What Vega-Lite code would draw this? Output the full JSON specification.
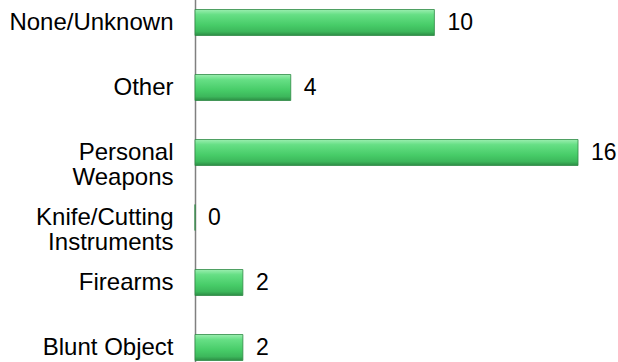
{
  "$schema": "https://vega.github.io/schema/vega-lite/v6.json",
  "autosize": "none",
  "width": 423,
  "height": 362,
  "padding": {"left": 195, "top": 0, "right": 0, "bottom": 0},
  "background": "white",
  "data": {"values": [
    {"category": "None/Unknown", "count": 10},
    {"category": "Other", "count": 4},
    {"category": "Personal\u2009|Weapons", "count": 16},
    {"category": "Knife/Cutting|Instruments\u00a0\u200a", "count": 0},
    {"category": "Firearms", "count": 2},
    {"category": "Blunt Object", "count": 2}
  ]},
  "config": {"view": {"stroke": null}},
  "encoding": {
    "y": {
      "field": "category", "type": "nominal", "sort": null, "title": null,
      "scale": {"range": [-10, 380], "paddingInner": 0.6, "paddingOuter": 0.3},
      "axis": {
        "ticks": false, "tickSize": 0, "labelPadding": 22, "labelFont": "Liberation Sans",
        "labelFontSize": 24, "labelColor": "#000000", "labelLineHeight": 25,
        "labelExpr": "split(datum.label, '|')", "labelAlign": "right", "labelBaseline": "middle",
        "labelLimit": 300,
        "domainColor": "#808080", "domainWidth": 1.5, "grid": false
      }
    },
    "x": {
      "field": "count", "type": "quantitative", "title": null,
      "scale": {"domain": [0, 17.67], "nice": false},
      "axis": null
    }
  },
  "layer": [
    {
      "mark": {
        "type": "bar",
        "stroke": "#2f8a45", "strokeWidth": 0.8,
        "color": {
          "gradient": "linear", "x1": 0, "y1": 0, "x2": 0, "y2": 1,
          "stops": [
            {"offset": 0, "color": "#9beeb0"},
            {"offset": 0.2, "color": "#66df85"},
            {"offset": 0.6, "color": "#47cc68"},
            {"offset": 0.85, "color": "#3cb75b"},
            {"offset": 1, "color": "#2c8c44"}
          ]
        }
      }
    },
    {
      "mark": {"type": "text", "align": "left", "baseline": "middle", "dx": 13, "font": "Liberation Sans", "fontSize": 23, "color": "#000000"},
      "encoding": {"text": {"field": "count", "type": "quantitative"}}
    }
  ]
}
